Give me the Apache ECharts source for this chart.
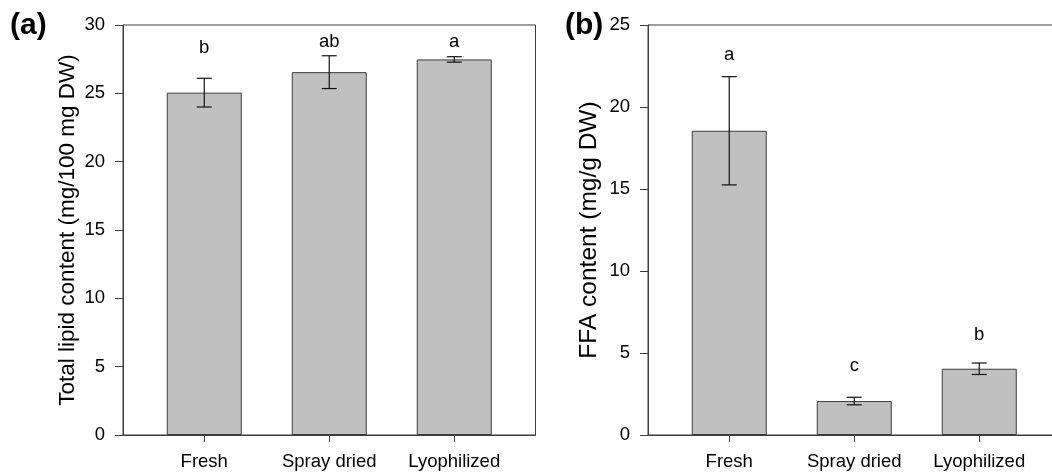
<!DOCTYPE html>
<html>
<head>
<meta charset="utf-8">
<script src="https://cdn.jsdelivr.net/npm/echarts@6/dist/echarts.min.js"></script>
<style>html,body{margin:0;padding:0;background:#fff}#c{width:1052px;height:472px}</style>
</head>
<body>
<div id="c"></div>
<script>
var categories = ['Fresh', 'Spray dried', 'Lyophilized'];
var lipidValues = [25.05, 26.55, 27.48];
var lipidErrors = [1.05, 1.2, 0.2];
var lipidLetters = ['b', 'ab', 'a'];
var lipidLetterY = [28.32, 28.76, 28.78];
var ffaValues = [18.55, 2.07, 4.04];
var ffaErrors = [3.3, 0.23, 0.35];
var ffaLetters = ['a', 'c', 'b'];
var ffaLetterY = [23.19, 4.23, 6.10];
var lipidTicks = {min: 0, max: 30, interval: 5};
var ffaTicks = {min: 0, max: 25, interval: 5};

var FONT = 'Liberation Sans';
var AX = '#3c3c3c';
var chart = echarts.init(document.getElementById('c'), null, {renderer: 'canvas'});

function xAxisDef(gi) {
  return {
    type: 'value', gridIndex: gi, min: 0.35, max: 3.65,
    axisLine: {show: true, lineStyle: {color: AX, width: 1}},
    axisTick: {show: true, inside: false, length: 7, customValues: [1, 2, 3], lineStyle: {color: AX}},
    axisLabel: {customValues: [1, 2, 3], margin: 17, color: '#000', fontFamily: FONT, fontSize: 18.5,
      formatter: function (v) { return categories[Math.round(v) - 1] || ''; }},
    splitLine: {show: false}
  };
}
function yAxisDef(gi, t, name, nameSize, gap) {
  return {
    type: 'value', gridIndex: gi, min: t.min, max: t.max, interval: t.interval,
    name: name, nameLocation: 'middle', nameGap: gap,
    nameTextStyle: {color: '#000', fontFamily: FONT, fontSize: nameSize},
    axisLine: {show: true, lineStyle: {color: AX, width: 1}},
    axisTick: {show: true, inside: false, length: 8, lineStyle: {color: AX}},
    axisLabel: {margin: 18, color: '#000', fontFamily: FONT, fontSize: 18.5},
    splitLine: {show: false}
  };
}
function pairs(vals) { return vals.map(function (v, i) { return [i + 1, v]; }); }
function errSeries(gi, vals, errs) {
  return {
    type: 'custom', xAxisIndex: gi, yAxisIndex: gi, z: 5,
    data: vals.map(function (v, i) { return [i + 1, v - errs[i], v + errs[i]]; }),
    renderItem: function (params, api) {
      var x = api.value(0);
      var lo = api.coord([x, api.value(1)]);
      var hi = api.coord([x, api.value(2)]);
      var hw = 7.5;
      var st = {stroke: '#111', lineWidth: 1.2};
      return {type: 'group', children: [
        {type: 'line', shape: {x1: lo[0], y1: lo[1], x2: hi[0], y2: hi[1]}, style: st},
        {type: 'line', shape: {x1: lo[0] - hw, y1: lo[1], x2: lo[0] + hw, y2: lo[1]}, style: st},
        {type: 'line', shape: {x1: hi[0] - hw, y1: hi[1], x2: hi[0] + hw, y2: hi[1]}, style: st}
      ]};
    }
  };
}
function letterSeries(gi, ys, letters) {
  return {
    type: 'custom', xAxisIndex: gi, yAxisIndex: gi, z: 6,
    data: ys.map(function (v, i) { return [i + 1, v]; }),
    renderItem: function (params, api) {
      var p = api.coord([api.value(0), api.value(1)]);
      return {type: 'text', x: p[0], y: p[1], style: {text: letters[params.dataIndex], fill: '#000',
        font: '18.5px "' + FONT + '"', align: 'center', verticalAlign: 'middle'}};
    }
  };
}
function barSeries(gi, vals) {
  return {
    type: 'bar', xAxisIndex: gi, yAxisIndex: gi, barWidth: 75, data: pairs(vals),
    itemStyle: {color: '#c0c0c0', borderColor: AX, borderWidth: 1}, silent: true
  };
}

chart.setOption({
  animation: false,
  backgroundColor: '#fff',
  title: [
    {text: '(a)', left: 5, top: 6, textStyle: {fontFamily: FONT, fontSize: 30, fontWeight: 'bold', color: '#000'}},
    {text: '(b)', left: 560, top: 6, textStyle: {fontFamily: FONT, fontSize: 30, fontWeight: 'bold', color: '#000'}}
  ],
  grid: [
    {left: 123, top: 25, width: 412.5, height: 410, show: true, borderColor: AX, borderWidth: 1,
     backgroundColor: 'transparent', outerBoundsMode: 'none', containLabel: false},
    {left: 648, top: 25, width: 412.5, height: 410, show: true, borderColor: AX, borderWidth: 1,
     backgroundColor: 'transparent', outerBoundsMode: 'none', containLabel: false}
  ],
  xAxis: [xAxisDef(0), xAxisDef(1)],
  yAxis: [yAxisDef(0, lipidTicks, 'Total lipid content (mg/100 mg DW)', 22.5, 44),
          yAxisDef(1, ffaTicks, 'FFA content (mg/g DW)', 24.5, 46)],
  series: [
    barSeries(0, lipidValues), errSeries(0, lipidValues, lipidErrors), letterSeries(0, lipidLetterY, lipidLetters),
    barSeries(1, ffaValues), errSeries(1, ffaValues, ffaErrors), letterSeries(1, ffaLetterY, ffaLetters)
  ]
});
</script>
</body>
</html>
